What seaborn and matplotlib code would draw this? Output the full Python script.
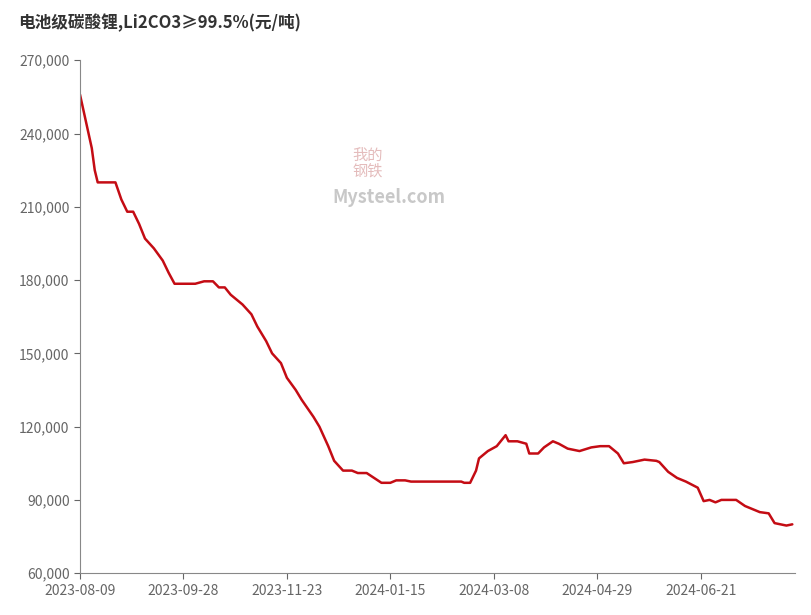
import matplotlib
matplotlib.use("Agg")
import matplotlib.pyplot as plt
import seaborn as sns
import pandas as pd

idx = [0,2,4,5,6,12,14,16,18,20,22,25,28,30,32,39,42,45,47,49,51,55,58,60,63,65,68,70,73,75,79,81,84,86,89,92,94,97,102,105,107,110,112,129,130,132,134,135,138,141,144,145,148,151,152,155,157,160,162,165,169,173,176,179,182,184,187,191,195,196,199,202,205,209,211,213,215,217,222,225,228,230,233,235,239,241]
price = [256000,245000,234000,225000,220000,220000,213000,208000,208000,203000,197000,193000,188000,183000,178500,178500,179500,179500,177000,177000,174000,170000,166000,161000,155000,150000,146000,140000,135000,131000,124000,120000,112000,106000,102000,102000,101000,101000,97000,97000,98000,98000,97500,97500,97000,97000,102000,107000,110000,112000,116500,114000,114000,113000,109000,109000,111500,114000,113000,111000,110000,111500,112000,112000,109000,105000,105500,106500,106000,105500,101500,99000,97500,95000,89500,90000,89000,90000,90000,87500,86000,85000,84500,80500,79500,80000]
tick_pos = [0,35,70,105,140,175,210]
tick_labels = ["2023-08-09","2023-09-28","2023-11-23","2024-01-15","2024-03-08","2024-04-29","2024-06-21"]
yticks = [60000,90000,120000,150000,180000,210000,240000,270000]

sns.set_style("white")
plt.rcParams['font.family'] = ['Noto Sans CJK SC', 'DejaVu Sans']
fig = plt.figure(figsize=(8.11,6.15), dpi=100)
ax = fig.add_axes([0.0986,0.068,0.882,0.834])
df = pd.DataFrame({"i": idx, "p": price})
sns.lineplot(data=df, x="i", y="p", ax=ax, color="#c40c14", linewidth=1.8)
ax.set_xlim(0,242); ax.set_ylim(60000,270000)
ax.set_xticks(tick_pos); ax.set_xticklabels(tick_labels)
ax.set_yticks(yticks); ax.set_yticklabels([f"{v:,}" for v in yticks])
ax.set_xlabel(""); ax.set_ylabel("")
for s in ["top","right"]:
    ax.spines[s].set_visible(False)
for s in ["left","bottom"]:
    ax.spines[s].set_color("#888888")
ax.tick_params(axis="both", colors="#666666", labelsize=10, length=4, direction="out", left=True, bottom=True, labelcolor="#666666")
fig.text(0.022,0.962,"电池级碳酸锂,Li2CO3≥99.5%(元/吨)", fontsize=12, fontweight="bold", color="#333333", va="center")
fig.text(0.41,0.67,"Mysteel.com", fontsize=13, fontweight="bold", color="#bbbbbb", alpha=0.8)
fig.text(0.435,0.715,"我的\n钢铁", fontsize=11, color="#d9a0a0", alpha=0.7, linespacing=0.9)
fig.savefig("out.png", dpi=100)
